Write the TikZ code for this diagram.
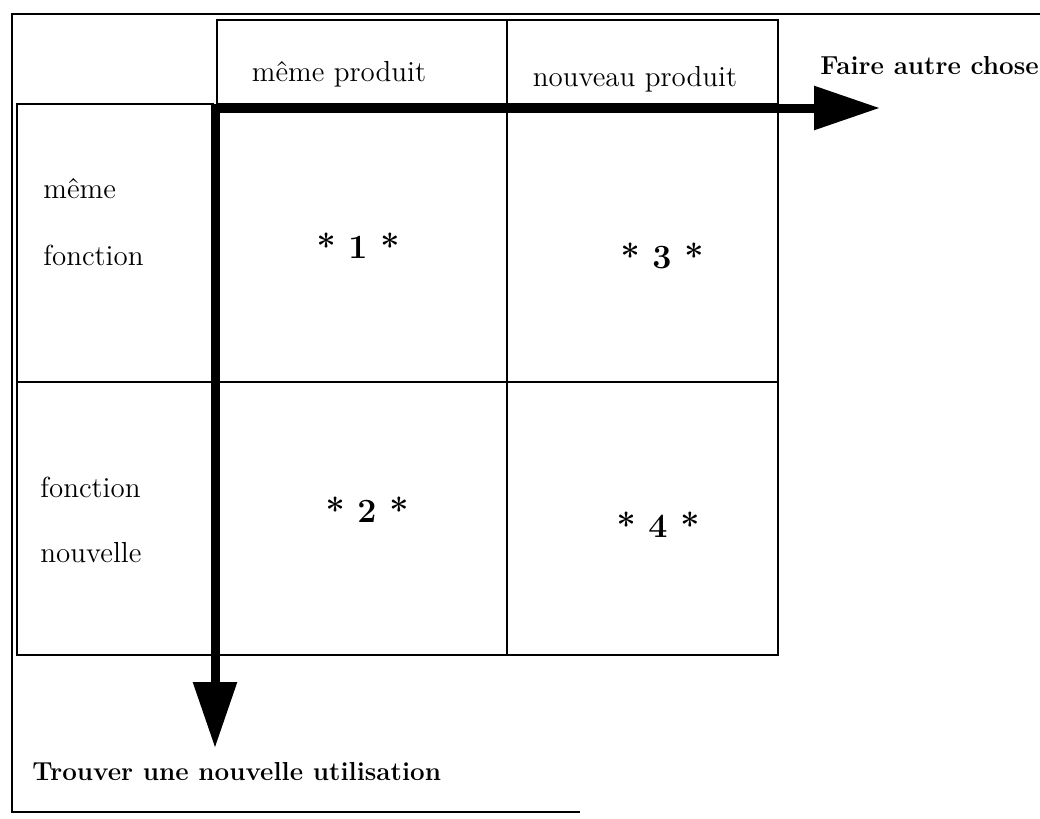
\documentclass[tikz,border=0pt]{standalone}
\usetikzlibrary{arrows.meta}
\begin{document}
\begin{tikzpicture}[x=0.5pt,y=-0.5pt,
  rule/.style={line width=1pt, black},
  bigarrow/.style={line width=4.5pt, black, line cap=rect, -{Triangle[length=33pt,width=21pt]}},
  lbl/.style={font=\fontsize{14.5}{17}\selectfont, anchor=base west, inner sep=0pt},
  hdr/.style={font=\fontsize{14.5}{17}\selectfont, anchor=base, inner sep=0pt},
  boldlbl/.style={font=\fontsize{13}{16}\selectfont\bfseries, anchor=base west, inner sep=0pt},
  star/.style={font=\fontsize{17}{20}\selectfont\bfseries, anchor=base, inner sep=0pt}]
\useasboundingbox (0,0) rectangle (1040,819);
% outer frame
\draw[rule] (1040,14) -- (12,14) -- (12,812) -- (580,812);
% header cells
\coordinate (hA) at (217,20);
\coordinate (hB) at (507,20);
\coordinate (hC) at (778,20);
\draw[rule] (hA) rectangle (778,104);
\draw[rule] (hB) -- (507,655);
% left column box
\draw[rule] (17,104) rectangle (213,655);
% grid lines
\draw[rule] (778,104) -- (778,655) -- (213,655);
\draw[rule] (17,382) -- (778,382);
% arrows
\coordinate (corner) at (215,108);
\coordinate (east) at (880,108);
\coordinate (south) at (215,748);
\draw[bigarrow] (corner) -- (east);
\draw[bigarrow] (corner) -- (south);
% labels
\node[hdr] (mp) at (339,82) {même produit};
\node[hdr] (np) at (635,86) {nouveau produit};
\node[boldlbl] (fac) at (820,74) {Faire autre chose};
\node[lbl] (m1) at (43,198) {même};
\node[lbl] (f1) at (43,265) {fonction};
\node[lbl] (f2) at (40,497) {fonction};
\node[lbl] (n2) at (40,562) {nouvelle};
\node[star] (s1) at (358,258) {* 1 *};
\node[star] (s3) at (662,268) {* 3 *};
\node[star] (s2) at (367,522) {* 2 *};
\node[star] (s4) at (658,537) {* 4 *};
\node[boldlbl] (tnu) at (32,780) {Trouver une nouvelle utilisation};
\end{tikzpicture}
\end{document}
